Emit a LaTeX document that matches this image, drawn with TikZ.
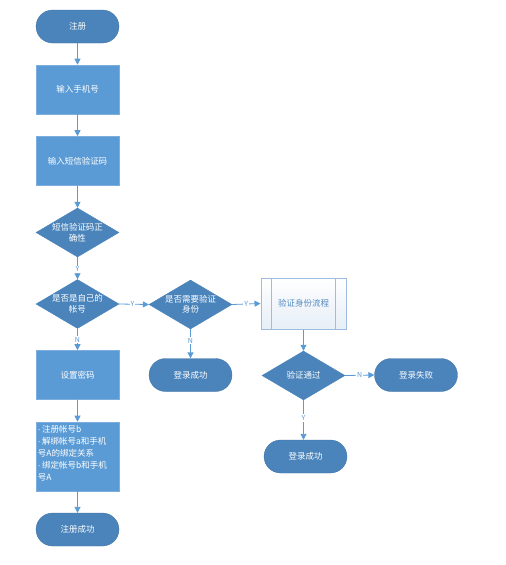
\documentclass[tikz,border=0pt]{standalone}
\usepackage{fontspec}
\setmainfont{Noto Sans CJK SC}
\newfontfamily\latdot{Liberation Sans}
\newcommand{\bdot}{{\latdot ·}\,}
\usetikzlibrary{shapes.geometric,shapes.misc,arrows.meta}
\definecolor{dk}{HTML}{4A84BB}
\definecolor{lt}{HTML}{5B9BD5}
\definecolor{ln}{HTML}{5B9BD5}
\definecolor{pp}{HTML}{9DBCE0}
\tikzset{
  base/.style={text=white,font=\fontsize{8.5}{10.5}\selectfont,inner sep=0pt,align=center},
  term/.style={base,rounded rectangle,fill=dk,draw=dk!85!black,line width=0.3pt,minimum width=83pt,minimum height=33pt},
  proc/.style={base,rectangle,fill=lt,draw=lt!80!white,line width=0.6pt,minimum width=83pt,minimum height=49pt},
  dec/.style={base,diamond,fill=dk,draw=dk,aspect=1.7,minimum width=83pt,minimum height=49pt,inner sep=0pt},
  arr/.style={draw=ln,line width=0.8pt,-{Triangle[length=6pt,width=6pt]}},
  lab/.style={fill=white,text=ln,font=\fontsize{7}{8}\selectfont,inner sep=1pt}
}
\begin{document}
\begin{tikzpicture}[x=1pt,y=-1pt]
\useasboundingbox (0,0) rectangle (506,565);
\node[term] (reg) at (77.5,26.5) {注册};
\node[proc] (phone) at (77.5,89.5) {输入手机号};
\node[proc] (sms) at (77.5,161) {输入短信验证码};
\node[dec] (d1) at (77.5,232.5) {};
\node[base] at (d1) {短信验证码正\\确性};
\node[dec] (d2) at (77.5,304) {};
\node[base] at (d2) {是否是自己的\\帐号};
\node[proc] (pwd) at (77.5,375) {设置密码};
\node[proc,minimum height=69pt] (bind) at (77.5,456.5) {};
\node[base,align=left,anchor=north west,font=\fontsize{8.5}{12}\selectfont] at ([shift={(2,3)}]bind.north west) {\bdot 注册帐号b\\\bdot 解绑帐号a和手机\\号A的绑定关系\\\bdot 绑定帐号b和手机\\号A};
\node[term] (regok) at (77.5,529.5) {注册成功};
\node[dec] (d3) at (190.5,304.5) {};
\node[base] at (d3) {是否需要验证\\身份};
\node[term] (ok1) at (190.5,375) {登录成功};
\node[rectangle,draw=pp,line width=1pt,top color=white,bottom color=pp!25,minimum width=85pt,minimum height=51pt] (vp) at (303.5,303.5) {};
\draw[pp,line width=0.8pt] ([xshift=11pt]vp.north west) -- ([xshift=11pt]vp.south west);
\draw[pp,line width=0.8pt] ([xshift=-11pt]vp.north east) -- ([xshift=-11pt]vp.south east);
\node[font=\fontsize{8.5}{10.5}\selectfont,text=lt!90!black] at (vp) {验证身份流程};
\node[dec] (d4) at (303.5,375.5) {};
\node[base] at (d4) {验证通过};
\node[term] (fail) at (416,375) {登录失败};
\node[term] (ok2) at (305.5,456.5) {登录成功};
\draw[arr] (reg) -- (phone);
\draw[arr] (phone) -- (sms);
\draw[arr] (sms) -- (d1);
\draw[arr] (d1) -- node[lab,pos=0.55]{Y} (d2);
\draw[arr] (d2) -- node[lab,pos=0.5]{N} (pwd);
\draw[arr] (pwd) -- (bind);
\draw[arr] (bind) -- (regok);
\draw[arr] (d2.east) -- node[lab,pos=0.45]{Y} (d3.west);
\draw[arr] (d3) -- node[lab,pos=0.4]{N} (ok1);
\draw[arr] (d3.east) -- node[lab,pos=0.5]{Y} (vp.west);
\draw[arr] (vp) -- (d4);
\draw[arr] (d4.east) -- node[lab,pos=0.5]{N} (fail.west);
\draw[arr] (d4.south) -- node[lab,pos=0.45]{Y} (d4.south |- ok2.north);
\end{tikzpicture}
\end{document}
